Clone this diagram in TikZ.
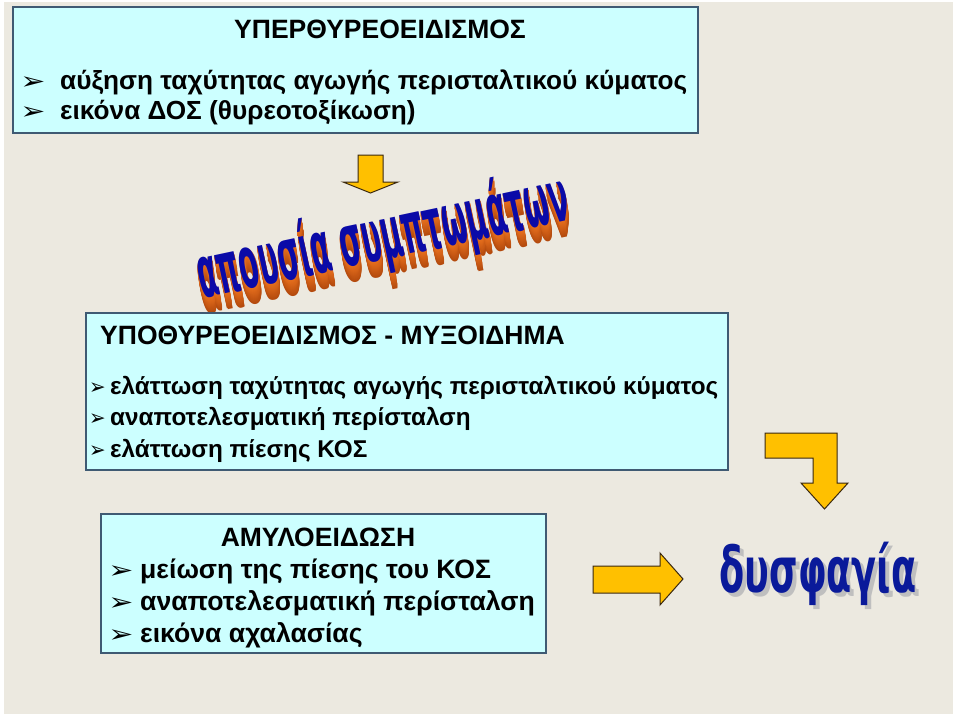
\documentclass[tikz,border=0pt]{standalone}
\usepackage{fontspec}
\setmainfont{Liberation Sans}
\newfontfamily\dv{DejaVu Sans}
\newfontfamily\wafont{DejaVu Sans Condensed}
\definecolor{bgc}{HTML}{ECE9E0}
\definecolor{boxfill}{HTML}{CCFFFF}
\definecolor{boxline}{HTML}{3F5A73}
\definecolor{arrfill}{HTML}{FFC000}
\definecolor{arrline}{HTML}{3A2810}
\definecolor{wablue}{HTML}{0A0AA8}
\definecolor{waorange}{HTML}{E8701E}
\definecolor{wadark}{HTML}{A03C08}
\definecolor{dysblue}{HTML}{0A1A9A}
\tikzset{
  panel/.style={draw=boxline, line width=1.3pt, fill=boxfill, inner sep=0pt, outer sep=0pt, anchor=north west},
  blockarrow/.style={draw=arrline, line width=1pt, fill=arrfill, line join=miter},
  txtH/.style={font=\bfseries\fontsize{26.5}{30}\selectfont, inner sep=0pt},
  txtA/.style={font=\bfseries\fontsize{26.2}{30}\selectfont, inner sep=0pt, anchor=base west},
  txtM/.style={font=\bfseries\fontsize{24.3}{30}\selectfont, inner sep=0pt, anchor=base west},
  txtB/.style={font=\bfseries\fontsize{26.6}{32}\selectfont, inner sep=0pt, anchor=base west},
  bul/.style={font=\dv\fontsize{24}{28}\selectfont, inner sep=0pt, anchor=base west, xscale=1.25},
  bulsmall/.style={font=\dv\fontsize{22}{26}\selectfont, inner sep=0pt, anchor=base west, xscale=0.9},
  wordart/.style={font=\wafont\bfseries\fontsize{40}{44}\selectfont, inner sep=0pt, rotate=12, xscale=0.8, yscale=1.8},
  dysf/.style={font=\wafont\bfseries\fontsize{36}{40}\selectfont, inner sep=0pt, xscale=1.13, yscale=1.75}
}
\begin{document}
\begin{tikzpicture}[x=1pt,y=-1pt]
\useasboundingbox (0,0) rectangle (960,717);
\fill[white] (0,0) rectangle (960,717);
\fill[bgc] (4,2) rectangle (953,714);

% box 1
\node[panel, minimum width=685pt, minimum height=126pt] (b1) at (13,7) {};
\node[txtH, anchor=base] (t1) at (380,38) {ΥΠΕΡΘΥΡΕΟΕΙΔΙΣΜΟΣ};
\node[bul] (p11) at (20,89) {➢};
\node[txtA] (l11) at (60,89) {αύξηση ταχύτητας αγωγής περισταλτικού κύματος};
\node[bul] (p12) at (20,119) {➢};
\node[txtA] (l12) at (60,119) {εικόνα ΔΟΣ (θυρεοτοξίκωση)};

% down arrow
\draw[blockarrow] (358,155) -- (383,155) -- (383,182) -- (398,182) -- (370.5,193) -- (343,182) -- (358,182) -- cycle;

% word art
\foreach \i in {16,...,1}{
  \pgfmathsetmacro{\mix}{100-4.5*\i}
  \node[wordart, text=waorange!\mix!wadark] (wa\i) at (383+0.15*\i,238+1.0*\i) {απουσία συμπτωμάτων};
}
\node[wordart, text=wablue] (wa) at (383,238) {απουσία συμπτωμάτων};

% box 2
\node[panel, minimum width=642pt, minimum height=157pt] (b2) at (86,313) {};
\node[txtH, anchor=base west] (t2) at (100,344) {ΥΠΟΘΥΡΕΟΕΙΔΙΣΜΟΣ - ΜΥΞΟΙΔΗΜΑ};
\node[bulsmall] (p21) at (89,394) {➢};
\node[txtM] (l21) at (110,394) {ελάττωση ταχύτητας αγωγής περισταλτικού κύματος};
\node[bulsmall] (p22) at (89,425) {➢};
\node[txtM] (l22) at (110,425) {αναποτελεσματική περίσταλση};
\node[bulsmall] (p23) at (89,457) {➢};
\node[txtM] (l23) at (110,457) {ελάττωση πίεσης ΚΟΣ};

% bent arrow
\draw[blockarrow] (765,433) -- (837,433) -- (837,483) -- (848,483) -- (824.5,509) -- (801,483) -- (813,483) -- (813,458) -- (765,458) -- cycle;

% box 3
\node[panel, minimum width=445pt, minimum height=139pt] (b3) at (101,514) {};
\node[txtH, anchor=base] (t3) at (318,546) {ΑΜΥΛΟΕΙΔΩΣΗ};
\node[bul] (p31) at (108,578) {➢};
\node[txtB] (l31) at (140,578) {μείωση της πίεσης του ΚΟΣ};
\node[bul] (p32) at (108,610) {➢};
\node[txtB] (l32) at (140,610) {αναποτελεσματική περίσταλση};
\node[bul] (p33) at (108,642) {➢};
\node[txtB] (l33) at (140,642) {εικόνα αχαλασίας};

% right arrow
\draw[blockarrow] (593,566) -- (660,566) -- (660,553) -- (683,579) -- (660,605) -- (660,593) -- (593,593) -- cycle;

% dysfagia
\node[dysf, text=black!25] (dysh) at (822,578) {δυσφαγία};
\node[dysf, text=dysblue] (dys) at (818,574) {δυσφαγία};
\end{tikzpicture}
\end{document}
